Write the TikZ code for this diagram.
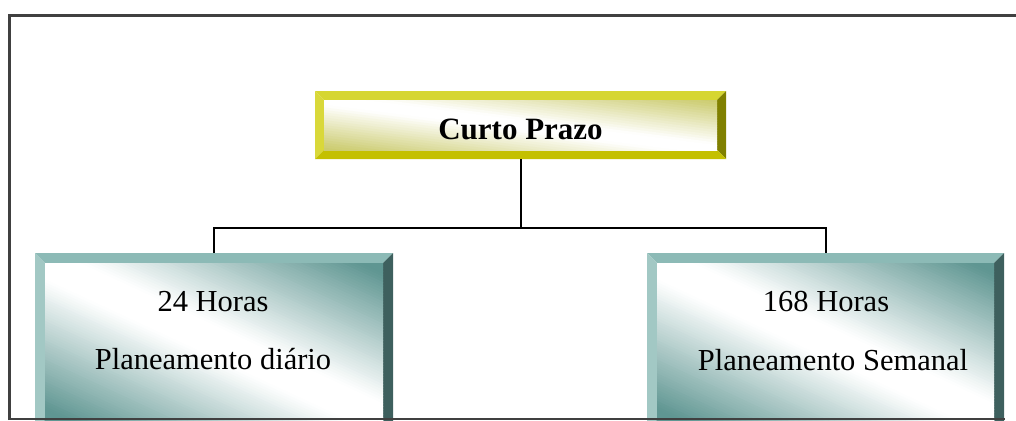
\documentclass[tikz,border=0pt]{standalone}
\usepackage{fontspec}
\setmainfont{Liberation Serif}
\definecolor{tealtop}{HTML}{8CBAB6}
\definecolor{tealleft}{HTML}{A2C8C4}
\definecolor{tealright}{HTML}{3E605E}
\definecolor{tealbot}{HTML}{5A8A86}
\definecolor{tealface}{HTML}{5F9692}
\definecolor{yeltop}{HTML}{D6D632}
\definecolor{yelleft}{HTML}{D9D83A}
\definecolor{yelright}{HTML}{808000}
\definecolor{yelbot}{HTML}{C4C000}
\definecolor{yelface}{HTML}{CCCC70}
\definecolor{framec}{HTML}{404040}
\newcommand\bevbox[9]{%
  \fill[#6] (#1,#2) -- (#3,#2) -- (#3-#5,#2+#5) -- (#1+#5,#2+#5) -- cycle;
  \fill[#7] (#1,#2) -- (#1+#5,#2+#5) -- (#1+#5,#4-#5) -- (#1,#4) -- cycle;
  \fill[#8] (#3,#2) -- (#3,#4) -- (#3-#5,#4-#5) -- (#3-#5,#2+#5) -- cycle;
  \fill[#9] (#1,#4) -- (#1+#5,#4-#5) -- (#3-#5,#4-#5) -- (#3,#4) -- cycle;
}
% gradient face: x1 y1 x2 y2 angle whitehalf maxd colour
\newcommand\gradface[8]{%
  \begin{scope}
    \clip (#1,#2) rectangle (#3,#4);
    \begin{scope}[shift={({(#1+#3)/2},{(#2+#4)/2})}, rotate=#5]
      \foreach \gi in {-60,...,59} {
        \pgfmathsetmacro\gdist{abs(\gi*2.5+1.25)}
        \pgfmathtruncatemacro\gpct{min(100,max(0,100*(\gdist-#6)/(#7-#6)))}
        \fill[#8!\gpct!white] (-450,\gi*2.5) rectangle (450,\gi*2.5+3.1);
      }
    \end{scope}
  \end{scope}}
\tikzset{
  conn/.style={line width=2pt, black},
  frameline/.style={line width=2.2pt, framec},
  boxtext/.style={font=\fontsize{30.5}{36}\selectfont, anchor=base, inner sep=0pt},
  titletext/.style={font=\fontsize{31}{37}\selectfont\bfseries, anchor=base, inner sep=0pt},
  holder/.style={rectangle, inner sep=0pt, draw=none}
}
\begin{document}
\begin{tikzpicture}[x=1pt,y=-1pt]
\useasboundingbox (0,0) rectangle (1016,420);
\begin{scope}
\clip (0,0) rectangle (1016,420);
% top box
\bevbox{315}{91}{726}{159}{9}{yeltop}{yelleft}{yelright}{yelbot}
\gradface{324}{100}{717}{150}{-7.3}{5}{48}{yelface}
% left box
\bevbox{35}{253}{393}{430}{10}{tealtop}{tealleft}{tealright}{tealbot}
\gradface{45}{263}{383}{420}{-24.9}{15}{132}{tealface}
% right box
\bevbox{647}{253}{1004}{430}{10}{tealtop}{tealleft}{tealright}{tealbot}
\gradface{657}{263}{994}{420}{-25}{15}{132}{tealface}
\end{scope}
\node[holder, minimum width=411pt, minimum height=68pt] (top) at (520.5,125) {};
\node[holder, minimum width=358pt, minimum height=167pt] (l) at (214,336.5) {};
\node[holder, minimum width=357pt, minimum height=167pt] (r) at (825.5,336.5) {};
\node[titletext] (tt) at (520.5,139) {Curto Prazo};
\node[boxtext] (l1) at (213,311) {24 Horas};
\node[boxtext] (l2) at (213,369) {Planeamento diário};
\node[boxtext] (r1) at (826,311) {168 Horas};
\node[boxtext] (r2) at (833,370) {Planeamento Semanal};
\coordinate (j) at (520.5,228);
\draw[conn] (top.south) -- (j);
\draw[conn] (l.north) |- (j) -| (r.north);
% frame
\draw[frameline] (9.5,420) -- (9.5,15.5) -- (1016,15.5);
\draw[frameline] (9.5,419) -- (1005,419);
\end{tikzpicture}
\end{document}
